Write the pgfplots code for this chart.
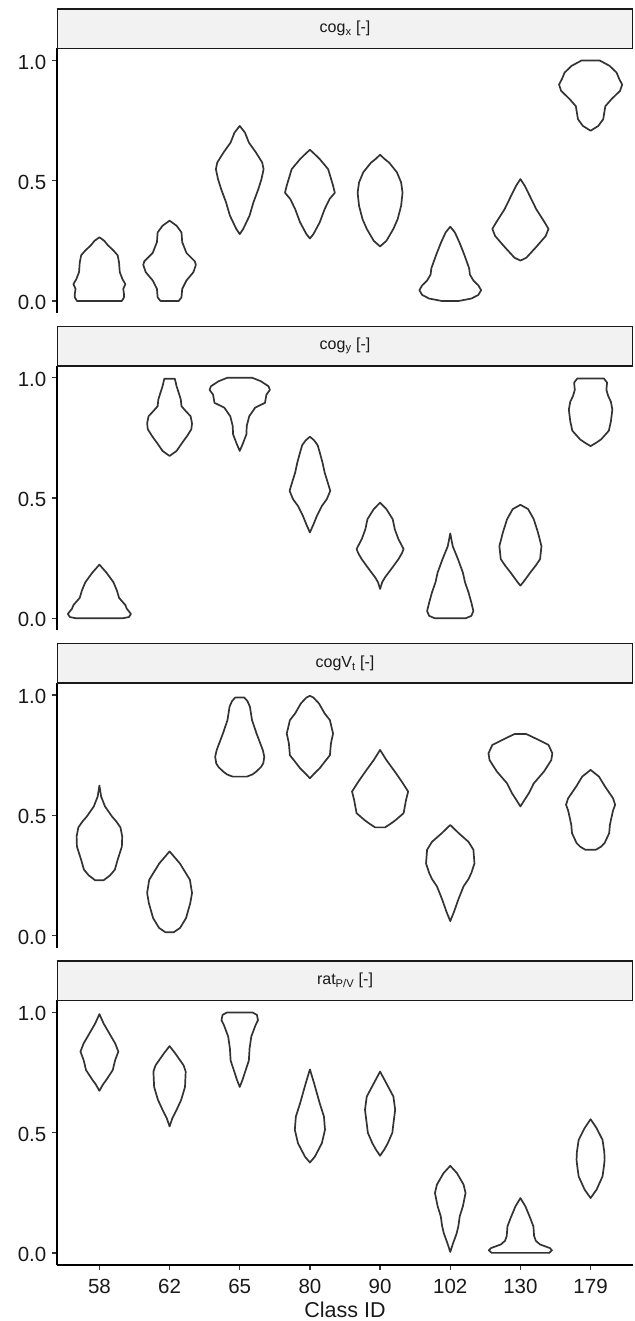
\documentclass[border=0pt]{standalone}
\usepackage{pgfplots}
\pgfplotsset{compat=1.18}
\usepackage{fontspec}
\setmainfont{Liberation Sans}

\definecolor{vline}{HTML}{333333}
\definecolor{stripfill}{HTML}{F2F2F2}

% one violin: #1 = class position, #2 = outline as y/half-width pairs, bottom to top
\newcommand\violin[2]{%
  \gdef\vright{}\gdef\vleft{}%
  \foreach \yy/\ww in {#2}{%
    \pgfmathsetmacro\xr{#1+\ww}%
    \pgfmathsetmacro\xl{#1-\ww}%
    \xdef\vright{\vright(\xr,\yy)}%
    \xdef\vleft{(\xl,\yy)\vleft}%
  }%
  \edef\vcmd{\noexpand\addplot[violin] coordinates {\vright\vleft} -- cycle;}%
  \vcmd
}

\pgfplotsset{
  panel/.style={
    scale only axis, width=575.4bp, height=264.5bp,
    xmin=0.4, xmax=8.6, ymin=-0.05, ymax=1.05,
    axis y line*=left, y axis line style={-, line width=1.6bp, black},
    ytick={0,0.5,1}, yticklabels={0.0,0.5,1.0},
    tick align=outside, major tick length=5bp,
    ytick style={line width=1.3bp, black!80},
    yticklabel style={font=\fontsize{20.5bp}{24bp}\selectfont, color=black!90, xshift=-2.5bp, yshift=-1.5bp},
    clip=false,
  },
  toppanel/.style={panel, axis x line=none, xtick=\empty},
  violin/.style={vline, line width=1.7bp, line join=round},
}

\newcommand\strip[2]{%
  \draw[fill=stripfill, draw=black!90, line width=1.5bp] (#1.north west) rectangle ([yshift=39.5bp]#1.north east);
  \node[font=\fontsize{16bp}{19bp}\selectfont, text=black!90] at ([yshift=19.75bp]#1.north) {#2};
}

\begin{document}
\begin{tikzpicture}
\useasboundingbox (-57.3bp,-1008bp) rectangle (577.7bp,313bp);

% ---------- cog_x ----------
\begin{axis}[toppanel, name=p1, at={(0,0)}]
\violin{1}{0/0.32, 0.015/0.35, 0.03/0.35, 0.05/0.34, 0.07/0.37, 0.09/0.33, 0.12/0.29, 0.16/0.28, 0.19/0.26, 0.21/0.20, 0.232/0.12, 0.25/0.07, 0.265/0}
\violin{2}{0/0.13, 0.015/0.17, 0.05/0.18, 0.085/0.24, 0.12/0.34, 0.15/0.375, 0.165/0.36, 0.20/0.24, 0.245/0.18, 0.285/0.17, 0.313/0.10, 0.334/0}
\violin{3}{0.278/0, 0.30/0.05, 0.355/0.14, 0.41/0.195, 0.465/0.265, 0.507/0.31, 0.548/0.34, 0.576/0.32, 0.618/0.23, 0.659/0.13, 0.70/0.075, 0.728/0}
\violin{4}{0.26/0, 0.278/0.05, 0.327/0.14, 0.382/0.21, 0.424/0.28, 0.45/0.355, 0.48/0.33, 0.548/0.26, 0.59/0.14, 0.61/0.07, 0.629/0}
\violin{5}{0.227/0, 0.25/0.09, 0.30/0.19, 0.34/0.25, 0.396/0.30, 0.45/0.32, 0.493/0.30, 0.535/0.24, 0.575/0.13, 0.59/0.066, 0.608/0}
\violin{6}{0/0.12, 0.01/0.30, 0.025/0.40, 0.045/0.44, 0.065/0.40, 0.085/0.33, 0.11/0.28, 0.135/0.27, 0.16/0.24, 0.20/0.19, 0.244/0.13, 0.285/0.066, 0.309/0}
\violin{7}{0.168/0, 0.18/0.085, 0.223/0.22, 0.27/0.36, 0.30/0.40, 0.327/0.345, 0.382/0.225, 0.424/0.155, 0.479/0.062, 0.507/0}
\violin{8}{0.708/0, 0.728/0.11, 0.756/0.18, 0.81/0.21, 0.84/0.30, 0.874/0.42, 0.90/0.45, 0.922/0.41, 0.95/0.37, 0.978/0.27, 1.0/0.13}
\end{axis}

% ---------- cog_y ----------
\begin{axis}[toppanel, name=p2, at={(0,-317.3bp)}]
\violin{1}{0/0.33, 0.005/0.42, 0.018/0.45, 0.04/0.39, 0.055/0.37, 0.085/0.28, 0.115/0.25, 0.15/0.20, 0.19/0.10, 0.223/0}
\violin{2}{0.675/0, 0.696/0.10, 0.73/0.18, 0.758/0.25, 0.786/0.31, 0.81/0.32, 0.84/0.30, 0.862/0.23, 0.882/0.17, 0.91/0.16, 0.938/0.13, 0.965/0.10, 0.996/0.075}
\violin{3}{0.696/0, 0.723/0.04, 0.765/0.095, 0.80/0.10, 0.84/0.135, 0.876/0.22, 0.896/0.36, 0.93/0.38, 0.95/0.43, 0.965/0.41, 0.986/0.30, 1.0/0.18}
\violin{4}{0.357/0, 0.39/0.05, 0.426/0.10, 0.467/0.17, 0.495/0.24, 0.53/0.29, 0.578/0.24, 0.606/0.21, 0.647/0.18, 0.69/0.14, 0.72/0.11, 0.74/0.06, 0.755/0}
\violin{5}{0.122/0, 0.15/0.03, 0.17/0.07, 0.205/0.16, 0.245/0.26, 0.27/0.31, 0.288/0.335, 0.33/0.26, 0.37/0.21, 0.412/0.18, 0.454/0.09, 0.481/0}
\violin{6}{0/0.22, 0.01/0.30, 0.03/0.33, 0.066/0.30, 0.108/0.26, 0.15/0.21, 0.19/0.18, 0.246/0.11, 0.30/0.035, 0.353/0}
\violin{7}{0.136/0, 0.15/0.04, 0.19/0.14, 0.22/0.22, 0.246/0.28, 0.30/0.30, 0.357/0.25, 0.412/0.19, 0.454/0.11, 0.472/0}
\violin{8}{0.716/0, 0.73/0.08, 0.744/0.15, 0.78/0.26, 0.82/0.29, 0.868/0.31, 0.90/0.29, 0.925/0.25, 0.95/0.225, 0.98/0.235, 0.997/0.19}
\end{axis}

% ---------- cogV_t ----------
\begin{axis}[toppanel, name=p3, at={(0,-634.6bp)}]
\violin{1}{0.23/0.06, 0.25/0.15, 0.274/0.22, 0.315/0.26, 0.37/0.32, 0.412/0.325, 0.45/0.30, 0.475/0.24, 0.495/0.18, 0.537/0.08, 0.578/0.025, 0.624/0}
\violin{2}{0.014/0.06, 0.032/0.15, 0.073/0.235, 0.135/0.295, 0.177/0.32, 0.232/0.29, 0.30/0.147, 0.35/0}
\violin{3}{0.661/0.10, 0.67/0.18, 0.682/0.235, 0.70/0.30, 0.716/0.335, 0.744/0.35, 0.77/0.33, 0.786/0.31, 0.84/0.24, 0.896/0.175, 0.952/0.145, 0.975/0.11, 0.99/0.065}
\violin{4}{0.654/0, 0.67/0.05, 0.696/0.14, 0.73/0.23, 0.75/0.285, 0.80/0.30, 0.84/0.33, 0.896/0.285, 0.924/0.21, 0.965/0.13, 0.99/0.05, 0.997/0}
\violin{5}{0.45/0.07, 0.465/0.15, 0.48/0.22, 0.509/0.335, 0.564/0.37, 0.599/0.40, 0.64/0.31, 0.682/0.21, 0.73/0.09, 0.772/0}
\violin{6}{0.06/0, 0.10/0.055, 0.15/0.115, 0.205/0.19, 0.235/0.26, 0.26/0.30, 0.30/0.345, 0.357/0.33, 0.39/0.26, 0.426/0.12, 0.46/0}
\violin{7}{0.537/0, 0.565/0.06, 0.592/0.12, 0.633/0.19, 0.682/0.335, 0.73/0.44, 0.758/0.455, 0.793/0.40, 0.82/0.215, 0.838/0.085}
\violin{8}{0.357/0.075, 0.37/0.15, 0.385/0.20, 0.426/0.265, 0.46/0.275, 0.481/0.29, 0.52/0.32, 0.544/0.35, 0.571/0.32, 0.62/0.205, 0.661/0.12, 0.689/0}
\end{axis}

% ---------- rat_P/V ----------
\begin{axis}[panel, name=p4, at={(0,-951.9bp)},
  axis x line*=bottom, x axis line style={-, line width=1.6bp, black},
  xtick={1,...,8}, xticklabels={58,62,65,80,90,102,130,179},
  xtick style={line width=1.3bp, black!80},
  xticklabel style={font=\fontsize{20.5bp}{24bp}\selectfont, color=black!90, yshift=-6bp},
  xlabel={Class ID},
  xlabel style={font=\fontsize{21.5bp}{25bp}\selectfont, color=black!90,
    at={(axis description cs:0.5,0)}, anchor=base, yshift=-52.5bp}]
\violin{1}{0.674/0, 0.70/0.05, 0.72/0.10, 0.76/0.19, 0.802/0.225, 0.837/0.27, 0.871/0.225, 0.906/0.155, 0.954/0.06, 0.993/0}
\violin{2}{0.526/0, 0.56/0.04, 0.595/0.10, 0.636/0.165, 0.69/0.22, 0.754/0.23, 0.78/0.20, 0.83/0.08, 0.86/0}
\violin{3}{0.69/0, 0.72/0.04, 0.747/0.07, 0.80/0.13, 0.85/0.14, 0.90/0.165, 0.947/0.225, 0.968/0.26, 0.99/0.245, 1.0/0.18}
\violin{4}{0.376/0, 0.40/0.07, 0.456/0.17, 0.512/0.215, 0.567/0.20, 0.622/0.14, 0.705/0.06, 0.763/0}
\violin{5}{0.404/0, 0.43/0.06, 0.456/0.11, 0.50/0.175, 0.526/0.185, 0.595/0.215, 0.65/0.19, 0.705/0.09, 0.754/0}
\violin{6}{0.004/0, 0.04/0.04, 0.08/0.09, 0.11/0.115, 0.152/0.135, 0.194/0.18, 0.249/0.218, 0.284/0.19, 0.332/0.095, 0.362/0}
\violin{7}{0/0.41, 0.011/0.45, 0.02/0.42, 0.035/0.28, 0.05/0.22, 0.07/0.195, 0.11/0.185, 0.145/0.14, 0.194/0.07, 0.228/0}
\violin{8}{0.228/0, 0.263/0.085, 0.318/0.17, 0.36/0.19, 0.387/0.20, 0.42/0.195, 0.47/0.17, 0.519/0.085, 0.556/0}
\end{axis}

\strip{p1}{cog\textsubscript{x} [-]}
\strip{p2}{cog\textsubscript{y} [-]}
\strip{p3}{cogV\textsubscript{t} [-]}
\strip{p4}{rat\textsubscript{P/V} [-]}
\end{tikzpicture}
\end{document}
